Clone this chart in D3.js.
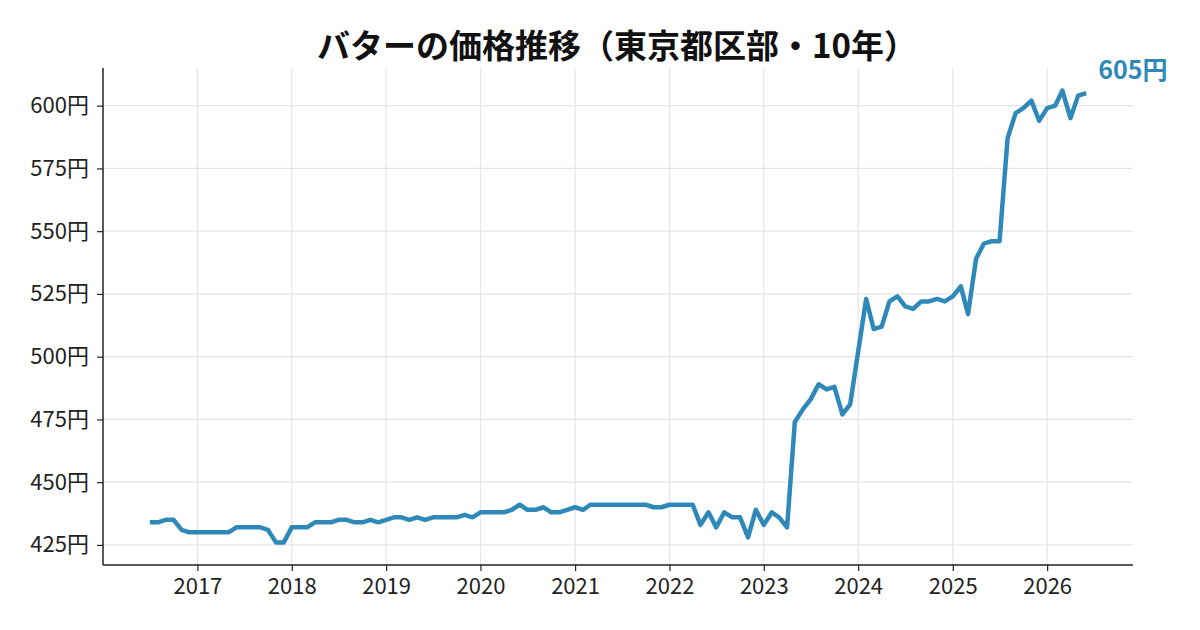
<!DOCTYPE html>
<html><head><meta charset="utf-8">
<script src="https://cdn.jsdelivr.net/npm/d3@7"></script>
<style>
html,body{margin:0;padding:0;background:#fff;}
svg{display:block;font-family:"Noto Sans CJK JP","Noto Sans",sans-serif;}
</style></head>
<body><svg id="chart" width="1200" height="630"></svg>
<script>
const startMonth = "2016-07";
const prices = [
  434,434,435,435,431,430,
  430,430,430,430,430,432,432,432,432,431,426,426,
  432,432,432,434,434,434,435,435,434,434,435,434,
  435,436,436,435,436,435,436,436,436,436,437,436,
  438,438,438,438,439,441,439,439,440,438,438,439,
  440,439,441,441,441,441,441,441,441,441,440,440,
  441,441,441,441,433,438,432,438,436,436,428,439,
  433,438,436,432,474,479,483,489,487,488,477,481,
  502,523,511,512,522,524,520,519,522,522,523,522,
  524,528,517,539,545,546,546,587,597,599,602,594,
  599,600,606,595,604,605
];
const yTicks = [425,450,475,500,525,550,575,600];
const xTickYears = [2017,2018,2019,2020,2021,2022,2023,2024,2025,2026];
const title = "バターの価格推移（東京都区部・10年）";
const unit = "円";

const parse = d3.timeParse("%Y-%m");
const t0 = parse(startMonth);
const data = prices.map((v,i)=>({date:d3.timeMonth.offset(t0,i), value:v}));

const svg = d3.select("#chart");
const m = {left:103, right:67, top:68, bottom:65};
const W = 1200, H = 630;
const iw = W-m.left-m.right, ih = H-m.top-m.bottom;

const dExt = d3.extent(data,d=>d.date);
const pad = (dExt[1]-dExt[0])*0.05;
const x = d3.scaleTime().domain([new Date(+dExt[0]-pad), new Date(+dExt[1]+pad)]).range([m.left, m.left+iw]);
const vExt = d3.extent(data,d=>d.value);
const vp = (vExt[1]-vExt[0])*0.05;
const y = d3.scaleLinear().domain([vExt[0]-vp, vExt[1]+vp]).range([m.top+ih, m.top]);

const xTicks = xTickYears.map(yr=>new Date(yr,0,1));

// grid
const g = svg.append("g");
g.selectAll(".vg").data(xTicks).join("line")
  .attr("x1",d=>x(d)).attr("x2",d=>x(d)).attr("y1",m.top).attr("y2",m.top+ih)
  .attr("stroke","#e4e4e4").attr("stroke-width",1.2);
g.selectAll(".hg").data(yTicks).join("line")
  .attr("x1",m.left).attr("x2",m.left+iw).attr("y1",d=>y(d)).attr("y2",d=>y(d))
  .attr("stroke","#e4e4e4").attr("stroke-width",1.2);

// axes
const xAxis = svg.append("g").attr("transform",`translate(0,${m.top+ih})`)
  .call(d3.axisBottom(x).tickValues(xTicks).tickFormat(d3.timeFormat("%Y")).tickSize(6).tickPadding(7));
const yAxis = svg.append("g").attr("transform",`translate(${m.left},0)`)
  .call(d3.axisLeft(y).tickValues(yTicks).tickFormat(d=>d+unit).tickSize(6).tickPadding(8));
[xAxis,yAxis].forEach(a=>{
  a.select(".domain").attr("stroke","#222").attr("stroke-width",1.5);
  a.selectAll(".tick line").attr("stroke","#222").attr("stroke-width",1.2);
  a.selectAll("text").attr("fill","#222").style("font-size","22px").style("font-family",'"Noto Sans CJK JP",sans-serif');
});
xAxis.select(".domain").attr("d",`M${m.left},0H${m.left+iw}`);
yAxis.select(".domain").attr("d",`M0,${m.top}V${m.top+ih}`);

// line
const color = "#2e89b9";
svg.append("path").datum(data)
  .attr("fill","none").attr("stroke",color).attr("stroke-width",4.5)
  .attr("stroke-linejoin","round")
  .attr("d",d3.line().x(d=>x(d.date)).y(d=>y(d.value)));

// end label
const last = data[data.length-1];
svg.append("text").attr("x",x(last.date)+12).attr("y",y(last.value)-14)
  .attr("fill",color).style("font-size","25px").style("font-weight","bold")
  .text(last.value+unit);

// title
svg.append("text").attr("x",617).attr("y",58).attr("text-anchor","middle")
  .attr("fill","#111").style("font-size","33px").style("font-weight","bold")
  .text(title);
</script></body></html>
